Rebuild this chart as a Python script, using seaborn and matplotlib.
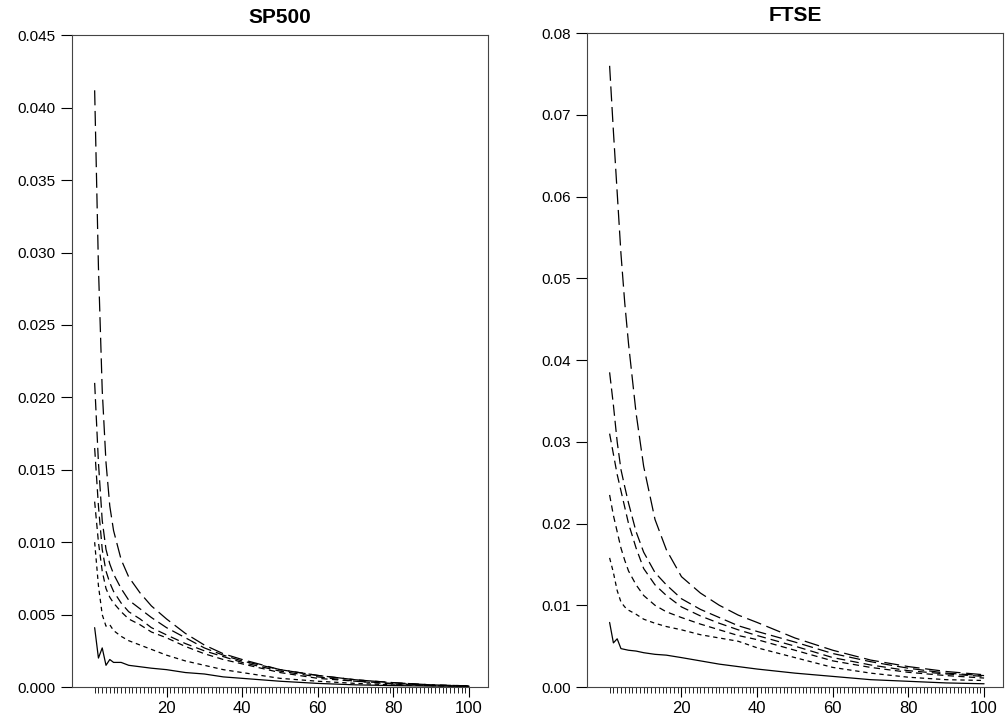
import matplotlib
matplotlib.use("Agg")
import matplotlib.pyplot as plt
import numpy as np
import pandas as pd
import seaborn as sns
from matplotlib.ticker import FixedLocator


LAGS = [1, 2, 3, 4, 5, 6, 8, 10, 13, 16, 20, 25, 30, 35, 40, 50, 60, 70, 80, 90, 100]
SERIES = ["s1", "s2", "s3", "s4", "s5", "s6"]

SP500_S1 = [0.0041, 0.0020, 0.0027, 0.0015, 0.0019, 0.0017, 0.0017, 0.0015, 0.0014, 0.0013, 0.0012,
            0.0010, 0.0009, 0.0007, 0.0006, 0.0004, 0.00025, 0.00015, 0.0001, 0.00007, 0.00005]
SP500_S2 = [0.0100, 0.0070, 0.0050, 0.0042, 0.0043, 0.0039, 0.0035, 0.0032, 0.0029, 0.0026, 0.0022,
            0.0018, 0.0015, 0.0012, 0.0010, 0.0006, 0.0004, 0.00025, 0.00015, 0.0001, 0.00005]
SP500_S3 = [0.0128, 0.0100, 0.0080, 0.0068, 0.0062, 0.0058, 0.0052, 0.0047, 0.0043, 0.0038, 0.0034,
            0.0028, 0.0023, 0.0019, 0.0016, 0.0010, 0.0006, 0.0004, 0.0002, 0.0001, 0.00005]
SP500_S4 = [0.0165, 0.0125, 0.0095, 0.0080, 0.0072, 0.0066, 0.0058, 0.0052, 0.0047, 0.0041, 0.0036,
            0.0030, 0.0025, 0.0021, 0.0017, 0.0011, 0.0007, 0.0004, 0.00025, 0.00012, 0.00006]
SP500_S5 = [0.0210, 0.0155, 0.0115, 0.0095, 0.0085, 0.0078, 0.0068, 0.0060, 0.0054, 0.0048, 0.0041,
            0.0034, 0.0027, 0.0022, 0.0018, 0.0012, 0.0008, 0.0005, 0.0003, 0.00015, 0.00008]
SP500_S6 = [0.0412, 0.0290, 0.0205, 0.0155, 0.0125, 0.0108, 0.0088, 0.0076, 0.0065, 0.0056, 0.0047,
            0.0037, 0.0029, 0.0023, 0.0019, 0.0012, 0.0008, 0.0005, 0.0003, 0.00015, 0.00008]

FTSE_S1 = [0.0079, 0.0054, 0.0059, 0.0047, 0.0046, 0.0045, 0.0044, 0.0042, 0.0040, 0.0039, 0.0036,
           0.0032, 0.0028, 0.0025, 0.0022, 0.0017, 0.0013, 0.0009, 0.0007, 0.0005, 0.0004]
FTSE_S2 = [0.0158, 0.0140, 0.0118, 0.0104, 0.0098, 0.0094, 0.0089, 0.0083, 0.0078, 0.0074, 0.0070,
           0.0064, 0.0060, 0.0056, 0.0048, 0.0036, 0.0024, 0.0017, 0.0012, 0.0009, 0.0008]
FTSE_S3 = [0.0235, 0.0210, 0.0190, 0.0170, 0.0155, 0.0142, 0.0125, 0.0112, 0.0100, 0.0092, 0.0085,
           0.0077, 0.0070, 0.0063, 0.0058, 0.0045, 0.0032, 0.0024, 0.0018, 0.0014, 0.0011]
FTSE_S4 = [0.0310, 0.0285, 0.0260, 0.0240, 0.0220, 0.0200, 0.0170, 0.0145, 0.0125, 0.0112, 0.0098,
           0.0087, 0.0078, 0.0070, 0.0063, 0.0050, 0.0036, 0.0027, 0.0020, 0.0016, 0.0013]
FTSE_S5 = [0.0385, 0.0345, 0.0300, 0.0266, 0.0245, 0.0225, 0.0190, 0.0165, 0.0140, 0.0125, 0.0108,
           0.0095, 0.0085, 0.0075, 0.0068, 0.0055, 0.0041, 0.0031, 0.0023, 0.0017, 0.0014]
FTSE_S6 = [0.0760, 0.0680, 0.0605, 0.0530, 0.0470, 0.0420, 0.0335, 0.0270, 0.0205, 0.0168, 0.0135,
           0.0115, 0.0100, 0.0088, 0.0079, 0.0060, 0.0045, 0.0033, 0.0025, 0.0019, 0.0015]

SP500_TICKS = [0.000, 0.005, 0.010, 0.015, 0.020, 0.025, 0.030, 0.035, 0.040, 0.045]
FTSE_TICKS = [0.00, 0.01, 0.02, 0.03, 0.04, 0.05, 0.06, 0.07, 0.08]
X_TICKS = [20, 40, 60, 80, 100]
X_MINOR = list(range(1, 101))

DASHES = {
    "s1": "",
    "s2": (3.5, 3),
    "s3": (5, 3.5),
    "s4": (7, 4),
    "s5": (9, 4),
    "s6": (12, 4.5),
}


def to_frame(columns):
    frames = []
    for name, values in zip(SERIES, columns):
        frames.append(pd.DataFrame({"lag": LAGS, "value": values, "series": name}))
    return pd.concat(frames, ignore_index=True)


def draw_panel(ax, df, title, yticks, fmt, ymax):
    sns.lineplot(
        data=df, x="lag", y="value", style="series", dashes=DASHES,
        color="black", linewidth=0.9, legend=False, ax=ax,
    )
    ax.set_xlim(-5, 105)
    ax.set_ylim(0, ymax)
    ax.set_yticks(yticks)
    ax.set_yticklabels([fmt.format(t) for t in yticks])
    ax.set_xticks(X_TICKS)
    ax.xaxis.set_minor_locator(FixedLocator(X_MINOR))
    ax.tick_params(axis="x", which="major", length=7, width=0.8, labelsize=12, pad=3,
                   colors="black")
    ax.tick_params(axis="x", which="minor", length=4, width=0.6, colors="black")
    ax.tick_params(axis="y", length=8, width=0.8, labelsize=11, colors="black")
    ax.set_xlabel("")
    ax.set_ylabel("")
    ax.set_title(title, fontsize=15, fontweight="bold", pad=9, color="black")
    for spine in ax.spines.values():
        spine.set_linewidth(0.8)
        spine.set_color("#444444")


sns.set_style("ticks")
plt.rcParams["font.family"] = ["Liberation Sans", "DejaVu Sans"]

fig = plt.figure(figsize=(10.05, 7.17), dpi=100)
ax1 = fig.add_axes([0.0716, 0.0418, 0.414, 0.909])
ax2 = fig.add_axes([0.584, 0.0418, 0.414, 0.912])

sp_df = to_frame([SP500_S1, SP500_S2, SP500_S3, SP500_S4, SP500_S5, SP500_S6])
ftse_df = to_frame([FTSE_S1, FTSE_S2, FTSE_S3, FTSE_S4, FTSE_S5, FTSE_S6])

draw_panel(ax1, sp_df, "SP500", SP500_TICKS, "{:.3f}", 0.045)
draw_panel(ax2, ftse_df, "FTSE", FTSE_TICKS, "{:.2f}", 0.08)

fig.savefig("out.png", dpi=100)
